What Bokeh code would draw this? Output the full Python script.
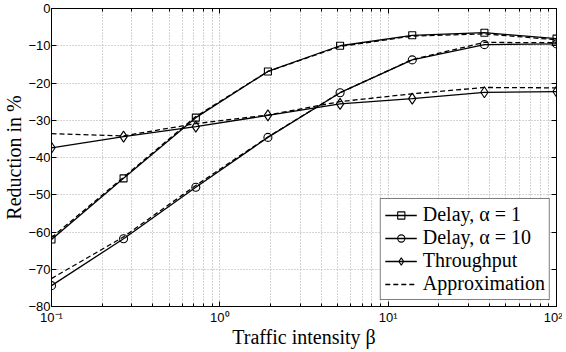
from bokeh.plotting import figure
from bokeh.models import (LogAxis, LinearAxis, FixedTicker, CustomJSTickFormatter,
                          Legend, LegendItem)
from bokeh.embed import file_html
from bokeh.resources import INLINE

# ---- data ----
beta = [0.1, 0.268, 0.72, 1.93, 5.18, 13.9, 37.3, 100.0]
delay_a1 = [-62.0, -45.6, -29.3, -16.9, -10.0, -7.2, -6.5, -8.1]
delay_a1_approx = [-61.5, -45.3, -29.0, -16.9, -10.2, -7.4, -6.8, -8.4]
delay_a10 = [-74.4, -61.8, -48.0, -34.6, -22.6, -13.8, -9.7, -9.5]
delay_a10_approx = [-72.5, -61.3, -47.5, -34.5, -22.6, -13.7, -9.1, -9.2]
throughput = [-37.4, -34.4, -31.7, -28.7, -25.6, -24.2, -22.5, -22.3]
throughput_approx = [-33.6, -34.2, -30.9, -28.6, -25.0, -22.9, -21.2, -21.3]

x_ticks = [0.1, 1, 10, 100]
x_tick_labels = ["10\u207b\u00b9", "10\u2070", "10\u00b9", "10\u00b2"]
x_minor = [m * d for d in (0.1, 1, 10) for m in range(2, 10)]
y_ticks = [-80, -70, -60, -50, -40, -30, -20, -10, 0]
x_title = "Traffic intensity \u03b2"
y_title = "Reduction in %"

TICK_FONT = "Liberation Sans"
SERIF = "Liberation Serif"

p = figure(width=562, height=350, x_axis_type="log", x_range=(0.1, 100), y_range=(-80, 0),
           output_backend="svg", toolbar_location=None,
           min_border_left=48, min_border_right=6, min_border_top=8, min_border_bottom=42)
p.background_fill_color = "white"
p.border_fill_color = "white"
p.outline_line_color = "black"
p.outline_line_width = 1

xt = FixedTicker(ticks=x_ticks, minor_ticks=x_minor)
yt = FixedTicker(ticks=y_ticks)

xfmt = CustomJSTickFormatter(args=dict(tvals=x_ticks, tlabels=x_tick_labels), code="""
const i = tvals.findIndex(t => Math.abs(Math.log10(t) - Math.log10(tick)) < 1e-6);
return i >= 0 ? tlabels[i] : '';
""")
yfmt = CustomJSTickFormatter(code="return tick < 0 ? '\u2212' + Math.abs(tick) : String(tick);")
blank = CustomJSTickFormatter(code="return '';")

xa = p.xaxis[0]
xa.ticker = xt
xa.formatter = xfmt
ya = p.yaxis[0]
ya.ticker = yt
ya.formatter = yfmt

for ax in (xa, ya):
    ax.axis_line_color = "black"
    ax.major_tick_in = 5
    ax.major_tick_out = 0
    ax.minor_tick_in = 3
    ax.minor_tick_out = 0
    ax.major_tick_line_color = "black"
    ax.minor_tick_line_color = "black"
    ax.major_label_text_font = TICK_FONT
    ax.major_label_text_font_size = "13px"
    ax.major_label_text_color = "black"
    ax.major_label_text_line_height = 0.9
    ax.axis_label_text_font = SERIF
    ax.axis_label_text_font_size = "20px"
    ax.axis_label_text_font_style = "normal"
    ax.axis_label_text_color = "black"
    ax.axis_label_text_line_height = 0.9
ya.minor_tick_line_color = None
xa.major_label_standoff = 3
ya.major_label_standoff = 1
xa.axis_label_standoff = -2
ya.axis_label_standoff = 0
xa.axis_label = x_title
ya.axis_label = y_title

top = LogAxis(ticker=xt, formatter=blank, major_tick_in=5, major_tick_out=0,
              minor_tick_in=3, minor_tick_out=0, major_label_standoff=0,
              major_label_text_font_size="0px", axis_line_color="black")
right = LinearAxis(ticker=yt, formatter=blank, major_tick_in=5, major_tick_out=0,
                   minor_tick_line_color=None, major_label_standoff=0,
                   major_label_text_font_size="0px", axis_line_color="black")
p.add_layout(top, "above")
p.add_layout(right, "right")

for g in (p.xgrid[0], p.ygrid[0]):
    g.grid_line_color = "#a8a8a8"
    g.grid_line_dash = "1 2"
    g.grid_line_width = 1
p.xgrid[0].ticker = xt
p.xgrid[0].minor_grid_line_color = "#a8a8a8"
p.xgrid[0].minor_grid_line_dash = "1 2"
p.ygrid[0].ticker = yt

LW = 1.3
DASH = "5 3"

a1_ap = p.line(beta, delay_a1_approx, line_color="black", line_width=LW, line_dash=DASH)
a10_ap = p.line(beta, delay_a10_approx, line_color="black", line_width=LW, line_dash=DASH)
th_ap = p.line(beta, throughput_approx, line_color="black", line_width=LW, line_dash=DASH)

a1_l = p.line(beta, delay_a1, line_color="black", line_width=LW)
a1_m = p.scatter(beta, delay_a1, marker="square", size=7, line_color="black", fill_alpha=0, line_width=1.1)
a10_l = p.line(beta, delay_a10, line_color="black", line_width=LW)
a10_m = p.scatter(beta, delay_a10, marker="circle", size=8, line_color="black", fill_alpha=0, line_width=1.1)
th_l = p.line(beta, throughput, line_color="black", line_width=LW)
th_m = p.scatter(beta, throughput, marker="diamond", size=11, line_color="black", fill_alpha=0, line_width=1.1)

legend = Legend(items=[
    LegendItem(label="Delay, \u03b1 = 1", renderers=[a1_l, a1_m]),
    LegendItem(label="Delay, \u03b1 = 10", renderers=[a10_l, a10_m]),
    LegendItem(label="Throughput", renderers=[th_l, th_m]),
    LegendItem(label="Approximation", renderers=[th_ap]),
])
legend.location = "bottom_right"
legend.margin = 6
legend.padding = 4
legend.spacing = 0
legend.glyph_width = 32
legend.glyph_height = 18
legend.label_height = 20
legend.label_standoff = 6
legend.label_text_font = SERIF
legend.label_text_font_size = "20px"
legend.label_text_color = "black"
legend.border_line_color = "black"
legend.border_line_width = 1
legend.background_fill_color = "white"
legend.background_fill_alpha = 1
p.add_layout(legend)

open("out.html", "w").write(file_html(p, INLINE))
